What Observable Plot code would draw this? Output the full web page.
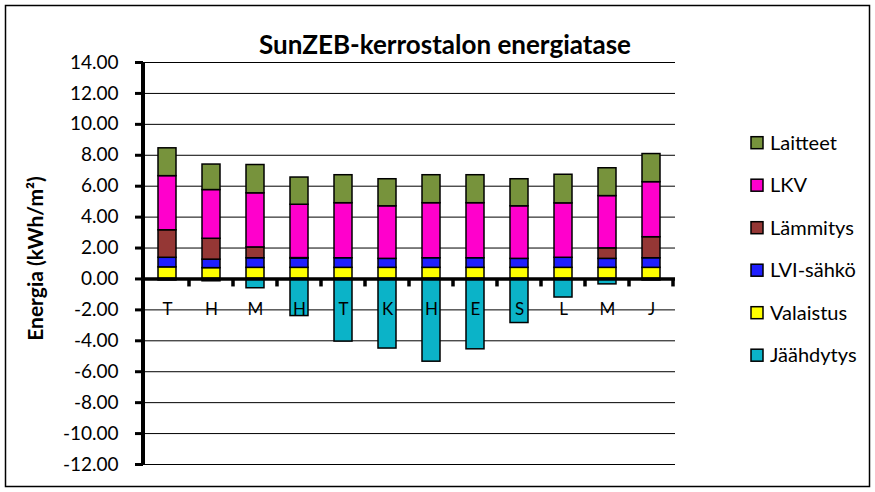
<!DOCTYPE html>
<html><head><meta charset="utf-8">
<script src="https://cdn.jsdelivr.net/npm/d3@7"></script>
<script src="https://cdn.jsdelivr.net/npm/@observablehq/plot@0.6"></script>
<style>body{margin:0;background:#fff} #chart{width:875px;height:492px}</style>
</head><body><div id="chart"></div>
<script>
// Data (kWh/m² per month)
const months = ["T","H","M","H","T","K","H","E","S","L","M","J"];
const series = ["Valaistus","LVI-sähkö","Lämmitys","LKV","Laitteet","Jäähdytys"];
const valaistus = [0.75,0.70,0.72,0.72,0.72,0.72,0.72,0.72,0.72,0.72,0.72,0.72];
const lviSahko  = [0.62,0.55,0.62,0.60,0.62,0.58,0.62,0.62,0.58,0.65,0.58,0.62];
const lammitys  = [1.78,1.35,0.70,0.03,0.00,0.00,0.00,0.00,0.00,0.00,0.68,1.36];
const lkv       = [3.50,3.15,3.50,3.45,3.56,3.40,3.56,3.56,3.40,3.52,3.38,3.56];
const laitteet  = [1.80,1.65,1.83,1.76,1.81,1.75,1.81,1.81,1.75,1.85,1.80,1.82];
const jaahdytys = [-0.10,-0.15,-0.60,-2.40,-4.05,-4.50,-5.35,-4.55,-2.85,-1.20,-0.35,-0.10];
const colors = ["#FFFF00","#1F1FFF","#953735","#FF00CC","#77933C","#0BB3C8"];
const legendOrder = ["Laitteet","LKV","Lämmitys","LVI-sähkö","Valaistus","Jäähdytys"];
const yTicks = d3.range(-12, 14.01, 2);
const titleText = "SunZEB-kerrostalon energiatase";
const yLabel = "Energia (kWh/m²)";

const valuesBySeries = [valaistus, lviSahko, lammitys, lkv, laitteet, jaahdytys];
const data = [];
series.forEach((s, k) => months.forEach((m, i) => data.push({i, series: s, value: valuesBySeries[k][i]})));
const xLabels = months.map((m, i) => ({i, m}));

const font = "Lato, 'Open Sans', sans-serif";
const chart = Plot.plot({
  width: 875, height: 492,
  marginLeft: 143, marginRight: 200, marginTop: 62, marginBottom: 28,
  style: {fontFamily: font, color: "#000", background: "#fff"},
  x: {domain: d3.range(12), paddingInner: 0.6, paddingOuter: 0.3, axis: null},
  y: {domain: [-12, 14], axis: null},
  color: {domain: series, range: colors},
  marks: [
    Plot.ruleY(yTicks, {stroke: "#000", strokeWidth: 1}),
    Plot.barY(data, {x: "i", y: "value", fill: "series", stroke: "#000", strokeWidth: 1.5}),
    Plot.ruleY([0], {stroke: "#000", strokeWidth: 3.5}),
    Plot.axisY({ticks: yTicks, label: null, tickFormat: d => d.toFixed(2), tickSize: 8, tickPadding: 17, fontSize: 19, strokeWidth: 3}),
    Plot.text(xLabels, {x: "i", y: () => 0, dy: 31, text: "m", fontSize: 17, fill: "#000"}),
    Plot.text([yLabel], {frameAnchor: "left", textAnchor: "middle", rotate: -90, dx: -107, dy: -5, fontWeight: "bold", fontSize: 21, fill: "#000"})
  ]
});
document.getElementById("chart").append(chart);

const svg = d3.select(chart);
const xs = chart.scale("x"), ys = chart.scale("y");
const [x0, x1] = xs.range;
// y-axis line
svg.append("line").attr("x1", x0).attr("x2", x0)
  .attr("y1", ys.apply(14)).attr("y2", ys.apply(-12))
  .attr("stroke", "#000").attr("stroke-width", 4);
// category separator ticks below the x axis
for (let i = 0; i < months.length; i++) {
  const bx = xs.apply(i) + xs.bandwidth / 2 + xs.step / 2;
  svg.append("line").attr("x1", bx).attr("x2", bx)
    .attr("y1", ys.apply(0)).attr("y2", ys.apply(0) + 8)
    .attr("stroke", "#000").attr("stroke-width", 3.5);
}
// title
svg.append("text").attr("x", 445).attr("y", 54).attr("text-anchor", "middle")
  .attr("font-family", font).attr("font-weight", "bold").attr("font-size", 26).text(titleText);
// legend
const lg = svg.append("g").attr("text-anchor", "start");
legendOrder.forEach((name, k) => {
  const cy = 142.7 + k * 42.5;
  lg.append("rect").attr("x", 751).attr("y", cy - 6).attr("width", 12).attr("height", 12)
    .attr("fill", colors[series.indexOf(name)]).attr("stroke", "#000").attr("stroke-width", 1.5);
  lg.append("text").attr("x", 770).attr("y", cy).attr("dy", "0.35em").attr("text-anchor", "start")
    .attr("font-family", font).attr("font-size", 20).text(name);
});
// outer border
svg.append("rect").attr("x", 5.5).attr("y", 5.5).attr("width", 864).attr("height", 481)
  .attr("fill", "none").attr("stroke", "#000").attr("stroke-width", 1.5);
</script></body></html>
